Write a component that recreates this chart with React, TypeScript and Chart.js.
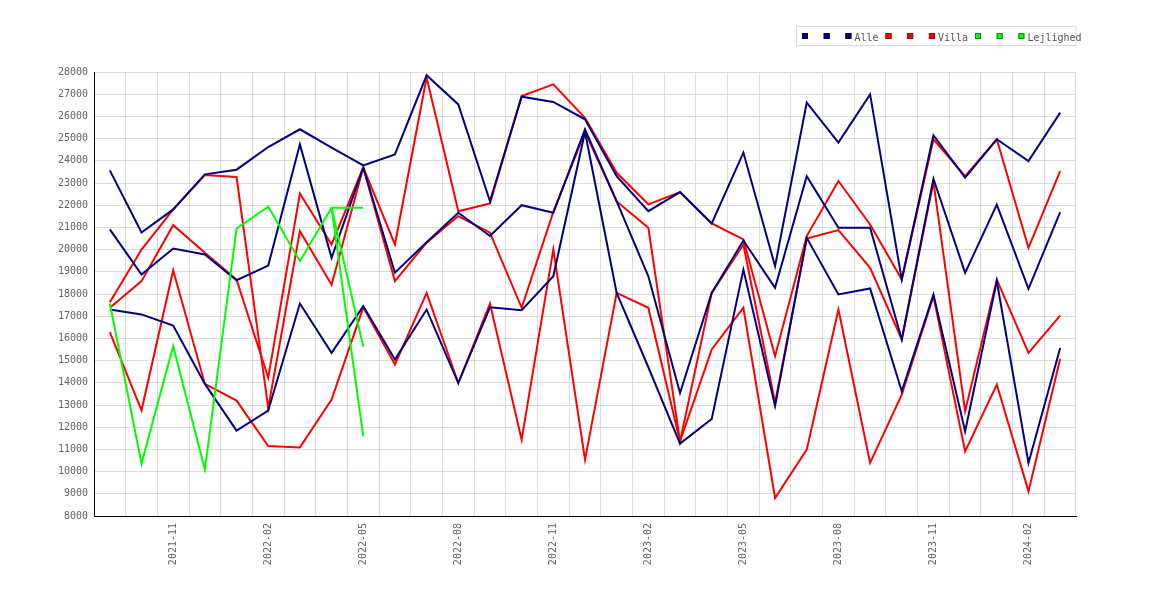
import { useEffect, useRef } from "react";
import Chart from "chart.js/auto";

// months 2021-09 .. 2024-03
const months = [
  "2021-09", "2021-10", "2021-11", "2021-12", "2022-01", "2022-02", "2022-03", "2022-04",
  "2022-05", "2022-06", "2022-07", "2022-08", "2022-09", "2022-10", "2022-11", "2022-12",
  "2023-01", "2023-02", "2023-03", "2023-04", "2023-05", "2023-06", "2023-07", "2023-08",
  "2023-09", "2023-10", "2023-11", "2023-12", "2024-01", "2024-02", "2024-03",
];

const alle1 = [
  23570, 20770, 21810, 23390, 23600, 24620, 25420, 24590, 23790, 24290, 27850, 26540, 22180, 26890, 26650, 25870,
  23310, 21730, 22590, 21180, 24370, 19250, 26620, 24820, 26990, 18650, 25150, 23240, 24970, 23990, 26170,
];
const alle2 = [
  20910, 18880, 20050, 19780, 18620, 19280, 24740, 19630, 23700, 18960, 20330, 21660, 20610, 22000, 21660, 25420,
  22170, 18800, 13540, 18050, 20410, 18280, 23310, 20980, 20980, 15950, 23190, 18950, 22030, 18230, 21690,
];
const alle3 = [
  17300, 17080, 16580, 13950, 11850, 12750, 17570, 15350, 17450, 15050, 17300, 13990, 17400, 17270, 18800, 25300,
  18050, 14700, 11260, 12370, 19100, 12960, 20530, 17980, 18250, 13620, 17980, 11810, 18580, 10390, 15570,
];

const villa1 = [
  17630, 20000, 21810, 23360, 23270, 12870, 20830, 18420, 23700, 18580, 20310, 21510, 20760, 17380, 21700, 25300,
  22170, 20980, 11360, 18050, 20230, 13100, 20500, 20880, 19180, 15950, 23050, 12720, 18650, 15350, 17030,
];
const villa2 = [
  17380, 18580, 21100, 19860, 18650, 14230, 22530, 20230, 23700, 20230, 27750, 21730, 22080, 26920, 27440, 25940,
  23460, 22040, 22590, 21180, 20460, 15200, 20610, 23090, 21130, 18650, 24970, 23310, 24970, 20080, 23540,
];
const villa3 = [
  16280, 12760, 19070, 13950, 13200, 11150, 11090, 13240, 17400, 14820, 18050, 13990, 17570, 11440, 20010, 10540,
  18050, 17380, 11360, 15500, 17380, 8810, 10990, 17300, 10390, 13470, 17900, 10910, 13920, 9110, 15080,
];

const lejl1 = [17570, 10360, 15650, 10090, 20950, 21930, 19480, 21890, 21890];
const lejl2 = [null, null, null, null, null, null, null, 21890, 15620];
const lejl3 = [null, null, null, null, null, null, null, 21890, 11590];

const groupNames = ["Alle", "Villa", "Lejlighed"];

const navy = "#000080";
const red = "#ff0000";
const green = "#00ff00";
const edges = ["#00004a", "#a00000", "#009000"];
const colors = [navy, red, green];
const gridColor = "#dcdcdc";
const textColor = "#646464";
const mono = "'DejaVu Sans Mono', monospace";

const legendBox = {
  id: "legendBox",
  afterDraw(chart: any) {
    const ctx = chart.ctx;
    ctx.save();
    ctx.lineWidth = 1;
    ctx.strokeStyle = gridColor;
    ctx.strokeRect(796.5, 26.5, 279.5, 19);
    ctx.font = "10px " + mono;
    ctx.textBaseline = "alphabetic";
    let x = 802;
    groupNames.forEach((name, gi) => {
      for (let k = 0; k < 3; k++) {
        ctx.fillStyle = colors[gi];
        ctx.fillRect(x, 33, 6, 6);
        ctx.strokeStyle = edges[gi];
        ctx.strokeRect(x + 0.5, 33.5, 5, 5);
        if (k < 2) x += 21.7;
      }
      const tx = x + 9;
      ctx.fillStyle = "#555";
      ctx.fillText(name, tx, 40.5);
      x = tx + ctx.measureText(name).width + 7;
    });
    ctx.restore();
  },
};

const line = (label: string, data: any[], color: string, order: number) => ({
  label,
  data,
  borderColor: color,
  backgroundColor: color,
  borderWidth: 2,
  pointRadius: 0,
  tension: 0,
  fill: false,
  spanGaps: false,
  order,
});

const App = () => {
  const chartRef: any = useRef(null);
  useEffect(() => {
    const ctx = chartRef.current.getContext("2d");
    const theChart = new Chart(ctx, {
      type: "line",
      data: {
        labels: months,
        datasets: [
          line("Alle", alle1, navy, 1),
          line("Alle", alle2, navy, 1),
          line("Alle", alle3, navy, 1),
          line("Villa", villa1, red, 2),
          line("Villa", villa2, red, 2),
          line("Villa", villa3, red, 2),
          line("Lejlighed", lejl1, green, 0),
          line("Lejlighed", lejl2, green, 0),
          line("Lejlighed", lejl3, green, 0),
        ],
      },
      options: {
        animation: false,
        responsive: true,
        maintainAspectRatio: false,
        events: [],
        layout: { padding: { top: 72, right: 94, bottom: 0, left: 0 } },
        plugins: {
          legend: { display: false },
          tooltip: { enabled: false },
        },
        scales: {
          x: {
            offset: true,
            grid: { offset: true, color: gridColor, drawTicks: false },
            border: { color: "#000", width: 1 },
            ticks: {
              autoSkip: false,
              minRotation: 90,
              maxRotation: 90,
              padding: 7,
              color: textColor,
              font: { family: mono, size: 10 },
              callback: (_v: any, i: number) => (i % 3 === 2 ? months[i] : ""),
            },
            afterFit: (s: any) => {
              s.height = 84;
            },
          },
          y: {
            min: 8000,
            max: 28000,
            grid: { color: gridColor, drawTicks: false },
            border: { color: "#000", width: 1 },
            ticks: {
              stepSize: 1000,
              padding: 6,
              color: textColor,
              font: { family: mono, size: 10 },
              callback: (v: any) => String(v),
            },
            afterFit: (s: any) => {
              s.width = 94;
            },
          },
        },
      },
      plugins: [legendBox],
    });
    return () => {
      theChart.destroy();
    };
  }, []);

  return (
    <div style={{ position: "absolute", left: 0, top: 0, width: 1170, height: 600, background: "#fff" }}>
      <canvas ref={chartRef} />
    </div>
  );
};

export default App;
